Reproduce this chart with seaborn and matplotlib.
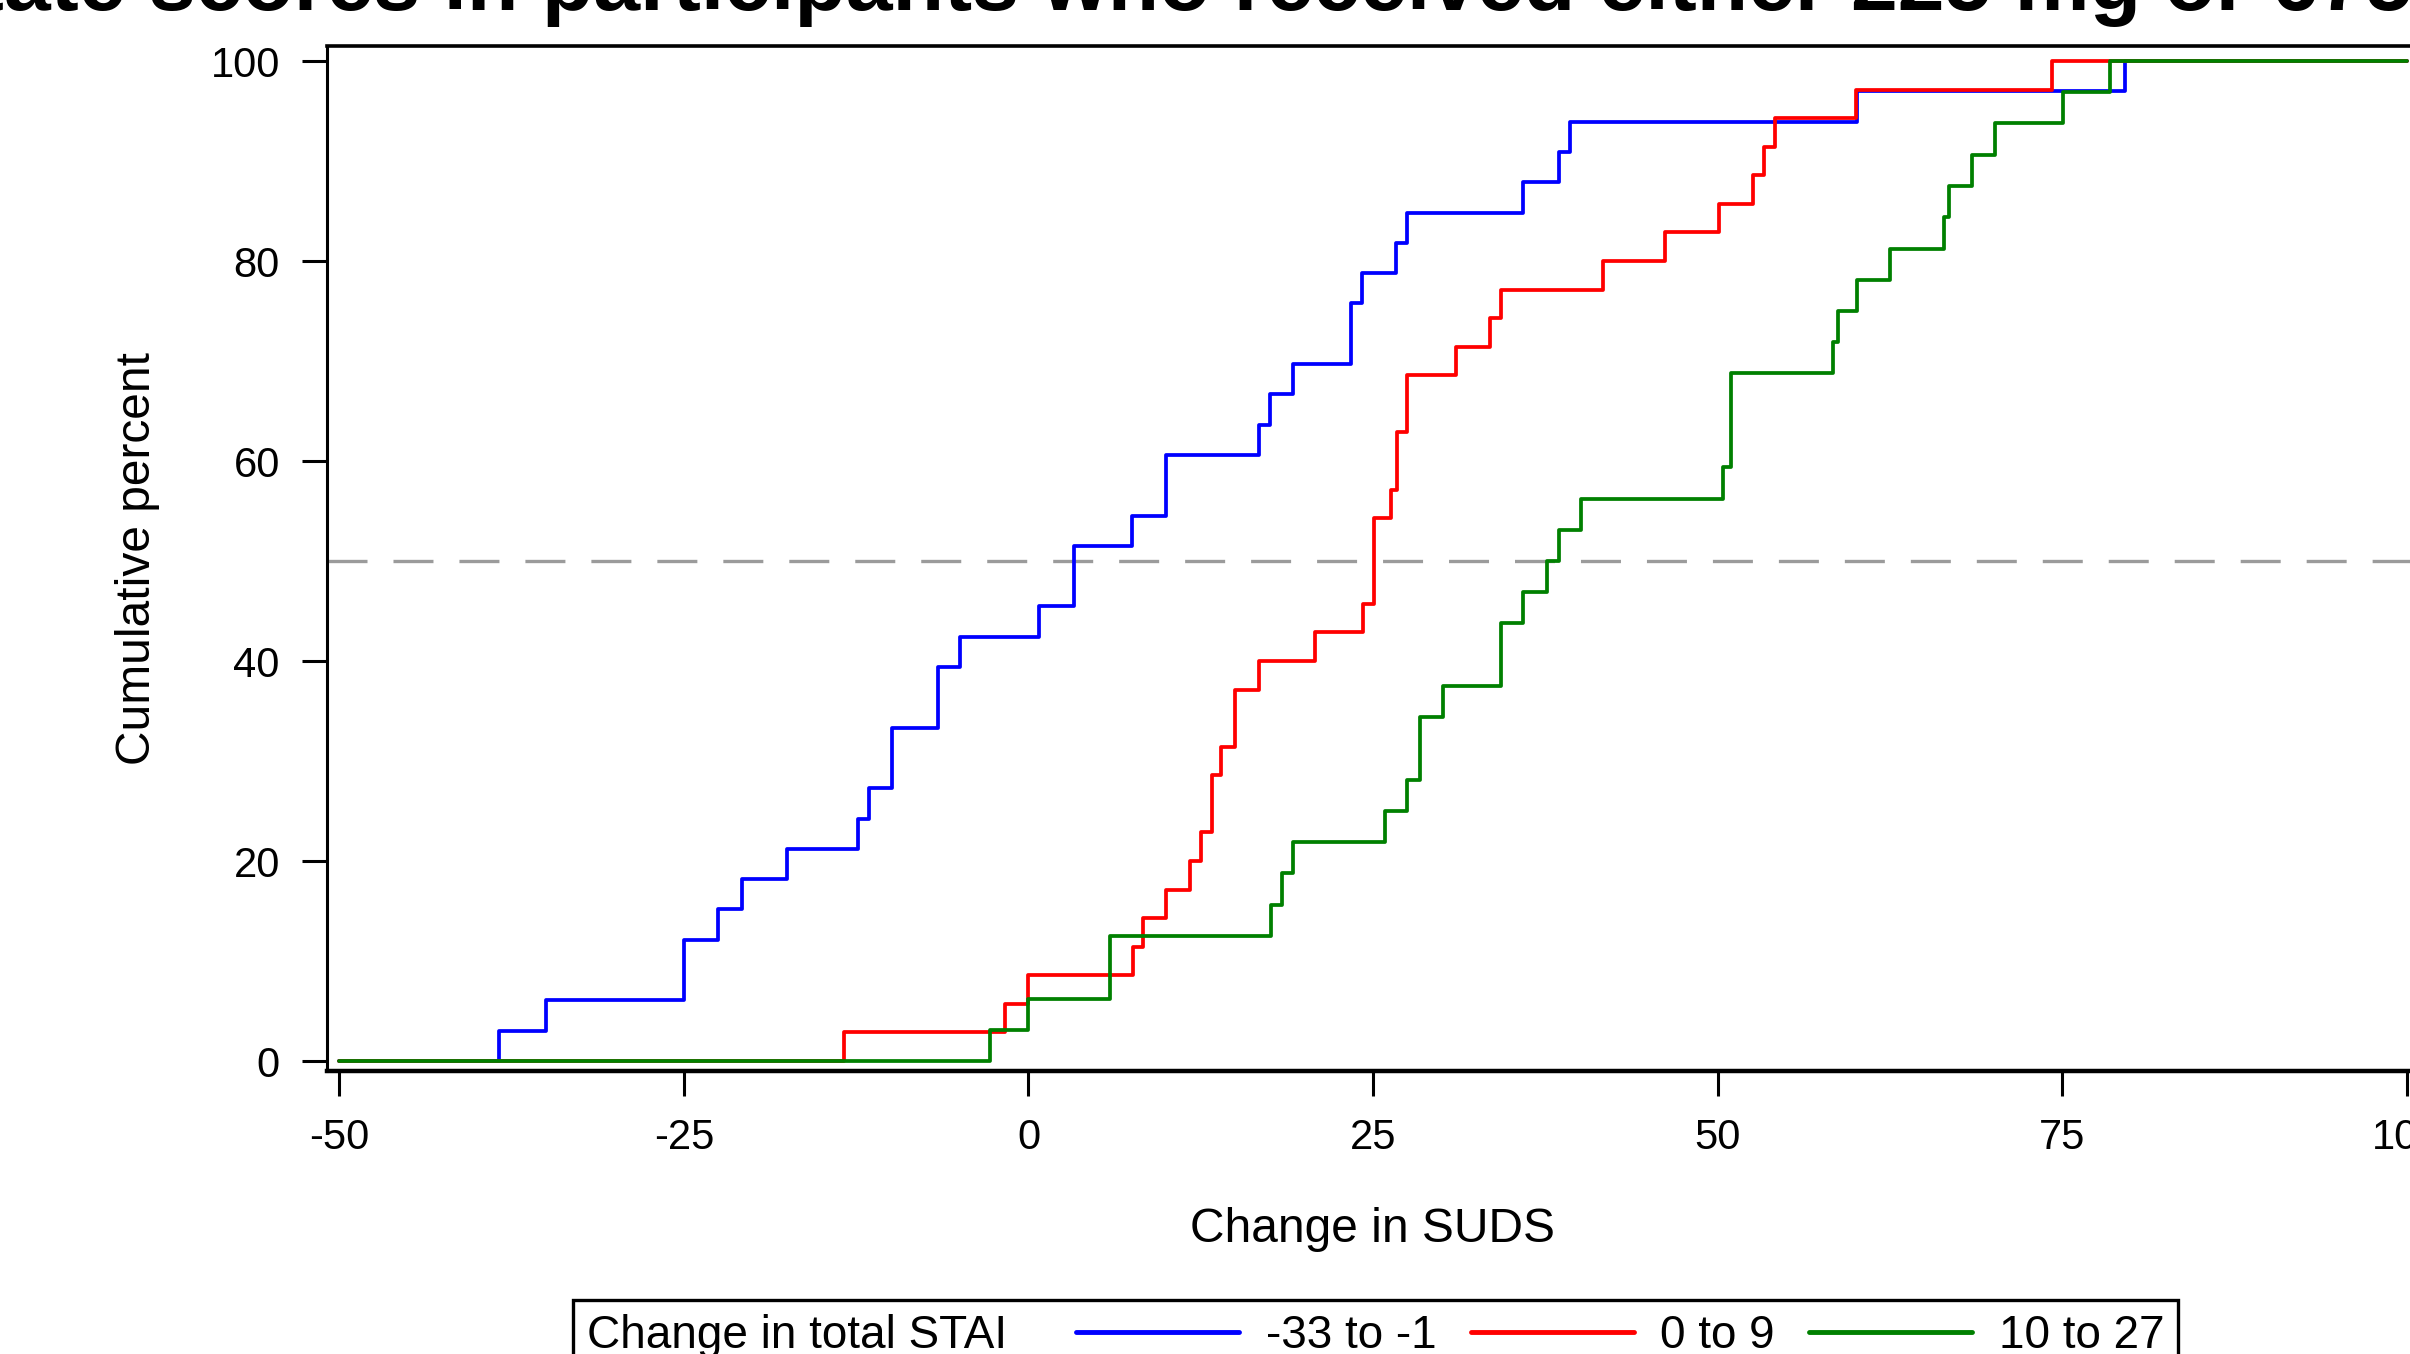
import matplotlib
matplotlib.use("Agg")
import matplotlib.pyplot as plt
from matplotlib.offsetbox import HPacker
import pandas as pd
import seaborn as sns

# --- data (change in SUDS -> cumulative percent) ---
groups = ["-33 to -1", "0 to 9", "10 to 27"]
colors = ["#0000ff", "#ff0000", "#008000"]

blue_x = [-50, -38.4, -35.0, -25.0, -22.5, -20.8, -17.5, -12.4, -11.6, -9.9, -6.6, -5.0,
          0.8, 3.3, 7.5, 10.0, 16.7, 17.5, 19.2, 23.4, 24.2, 26.7, 27.5, 35.9, 38.5, 39.3,
          60.1, 79.6, 100]
blue_y = [0, 3.0, 6.1, 12.1, 15.2, 18.2, 21.2, 24.2, 27.3, 33.3, 39.4, 42.4,
          45.5, 51.5, 54.5, 60.6, 63.6, 66.7, 69.7, 75.8, 78.8, 81.8, 84.8, 87.9, 90.9, 93.9,
          97.0, 100, 100]

red_x = [-50, -13.4, -1.7, 0.0, 7.6, 8.3, 10.0, 11.7, 12.5, 13.3, 14.0, 15.0, 16.7, 20.8,
         24.3, 25.05, 26.3, 26.75, 27.5, 31.0, 33.5, 34.3, 41.7, 46.2, 50.1, 52.6, 53.4, 54.2,
         60.05, 74.3, 100]
red_y = [0, 2.9, 5.7, 8.6, 11.4, 14.3, 17.1, 20.0, 22.9, 28.6, 31.4, 37.1, 40.0, 42.9,
         45.7, 54.3, 57.1, 62.9, 68.6, 71.4, 74.3, 77.1, 80.0, 82.9, 85.7, 88.6, 91.4, 94.3,
         97.1, 100, 100]

green_x = [-50, -2.8, 0.0, 5.9, 17.6, 18.4, 19.2, 25.9, 27.5, 28.4, 30.1, 34.3, 35.9, 37.6,
           38.5, 40.1, 50.4, 51.0, 58.4, 58.75, 60.1, 62.5, 66.4, 66.8, 68.45, 70.1, 75.1, 78.5,
           100]
green_y = [0, 3.1, 6.2, 12.5, 15.6, 18.8, 21.9, 25.0, 28.1, 34.4, 37.5, 43.8, 46.9, 50.0,
           53.1, 56.2, 59.4, 68.8, 71.9, 75.0, 78.1, 81.2, 84.4, 87.5, 90.6, 93.8, 96.9, 100,
           100]

x_ticks = [-50, -25, 0, 25, 50, 75, 100]
x_tick_labels = ["-50", "-25", "0", "25", "50", "75", "100"]
y_ticks = [0, 20, 40, 60, 80, 100]
y_tick_labels = ["0", "20", "40", "60", "80", "100"]
median_line = 50

df = pd.concat(
    [pd.DataFrame({"suds": xs, "pct": ys, "stai": g})
     for xs, ys, g in zip([blue_x, red_x, green_x], [blue_y, red_y, green_y], groups)],
    ignore_index=True)

# --- plot ---
sns.set_theme(style="ticks")
plt.rcParams["font.family"] = ["Liberation Sans", "DejaVu Sans"]
plt.rcParams["lines.scale_dashes"] = False
for k in ["text.color", "axes.labelcolor", "xtick.color", "ytick.color", "axes.edgecolor"]:
    plt.rcParams[k] = "black"

W, H = 2410, 1354
fig = plt.figure(figsize=(W / 100, H / 100), dpi=100)
ax = fig.add_axes([327 / W, 1 - 1071 / H, (2419 - 327) / W, (1071 - 46) / H])

ax.axhline(median_line, color="#9b9b9b", lw=2.4, dashes=(28.8, 18.7), zorder=1)
sns.lineplot(data=df, x="suds", y="pct", hue="stai", hue_order=groups, palette=colors,
             estimator=None, sort=False, drawstyle="steps-post", lw=2.7, ax=ax, zorder=2)

ax.set_xlim(-50.9, 100.9)
ax.set_ylim(-1.0, 101.55)
ax.set_xticks(x_ticks, x_tick_labels)
ax.set_yticks(y_ticks, y_tick_labels)
ax.tick_params(length=18, width=2.2, labelsize=30, pad=16, direction="out", color="black")
ax.spines["left"].set_linewidth(2.2)
ax.spines["top"].set_linewidth(2.6)
ax.spines["bottom"].set_linewidth(3.2)
ax.spines["right"].set_linewidth(2.2)

ax.set_xlabel("Change in SUDS", fontsize=34.5, va="center")
ax.xaxis.set_label_coords(0.5, -0.155)
ax.set_ylabel("Cumulative percent", fontsize=34.5, va="center")
ax.yaxis.set_label_coords(-189 / 2092, 0.5)

# legend: title inline with the entries, box anchored under the axis
old = ax.get_legend()
handles = old.legend_handles
labels = [t.get_text() for t in old.get_texts()]
old.remove()
leg = ax.legend(handles, labels, title="Change in total STAI", ncol=3, loc="upper left",
                bbox_to_anchor=(573 / W, 1 - 1300 / H), bbox_transform=fig.transFigure,
                borderaxespad=0, fontsize=33, title_fontsize=33, handlelength=3.56,
                handletextpad=0.58, columnspacing=0.75, borderpad=0.3,
                frameon=True, fancybox=False, edgecolor="black", framealpha=1)
leg.get_frame().set_linewidth(2.4)
for h in leg.legend_handles:
    h.set_linewidth(3.5)
box = HPacker(pad=leg.borderpad * leg._fontsize, sep=49.7, align="center",
              children=[leg._legend_title_box, leg._legend_handle_box])
box.set_figure(fig)
box.axes = ax
leg._legend_box = box
leg._legend_box.set_offset(leg._findoffset)

fig.text(-71 / W, 1 - 10 / H,
         "state scores in participants who received either 225 mg or 675 mg",
         fontsize=60.6, fontweight="bold", ha="left", va="baseline")

fig.savefig("out.png", dpi=100)
